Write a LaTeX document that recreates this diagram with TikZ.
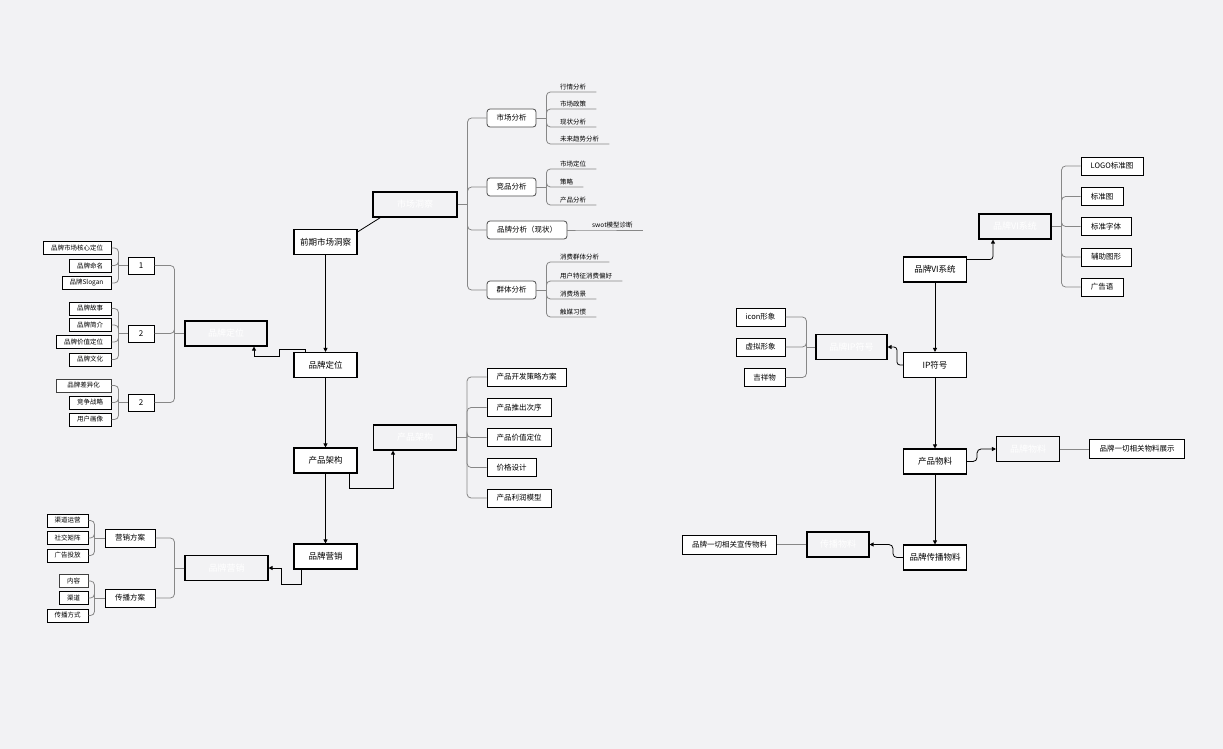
\documentclass[tikz,border=0pt]{standalone}
\usepackage{fontspec}
\setmainfont{Noto Sans CJK SC}
\usetikzlibrary{arrows.meta}
\definecolor{bgcol}{RGB}{242,242,244}
\definecolor{treecol}{RGB}{135,135,135}
\tikzset{
  mainbox/.style={draw, line width=1.1pt, fill=white, minimum width=63pt, minimum height=25pt, inner sep=0pt, font=\fontsize{8.5}{10}\selectfont},
  hidebox/.style={draw, line width=1.1pt, text=white, minimum height=25pt, inner sep=0pt, font=\fontsize{9}{10}\selectfont},
  subbox/.style={draw=black!70, line width=0.8pt, rounded corners=3pt, fill=white, minimum height=18pt, inner sep=0pt, font=\fontsize{7.5}{9}\selectfont},
  itembox/.style={draw, line width=1pt, fill=white, minimum height=18pt, inner sep=0pt, font=\fontsize{7.5}{9}\selectfont},
  numbox/.style={draw, line width=1pt, fill=white, minimum width=26pt, minimum height=17pt, inner sep=0pt, font=\fontsize{8}{9}\selectfont},
  leafbox/.style={draw, line width=1pt, fill=white, minimum height=13pt, inner sep=0pt, font=\fontsize{6.5}{7}\selectfont},
  thinbox/.style={leafbox, draw=black!75, line width=0.7pt},
  leafline/.style={anchor=south west, inner xsep=5pt, inner ysep=2pt, font=\fontsize{6.5}{7}\selectfont},
  tree/.style={draw=treecol, line width=0.8pt, rounded corners=4pt},
  flow/.style={line width=0.8pt, -{Triangle[length=4pt,width=4pt]}},
}
\begin{document}
\begin{tikzpicture}[x=1pt,y=-1pt]
  \useasboundingbox (0,0) rectangle (1223,749);
  \fill[bgcol] (0,0) rectangle (1223,749);

  \begin{scope}
    \node[mainbox] (pre) at (325.5,242) {前期市场洞察};
    \node[mainbox] (pos) at (325.5,365) {品牌定位};
    \node[mainbox] (arch) at (325.5,460.5) {产品架构};
    \node[mainbox] (mkt) at (325.5,556.5) {品牌营销};
    \draw[flow] (pre) -- (pos);
    \draw[flow] (pos) -- (arch);
    \draw[flow] (arch) -- (mkt);

    \node[hidebox, minimum width=84pt] (insH) at (415,204.5) {市场洞察};
    \draw[line width=0.8pt] ([yshift=-3pt]pre.north east) -- ([xshift=8pt]insH.south west);
    \draw[tree] (insH.east) -- ++(10,0) coordinate (ins);
    \node[subbox, minimum width=49pt] (sc) at (511.5,118) {市场分析};
    \node[subbox, minimum width=49pt] (jp) at (511.5,187) {竞品分析};
    \node[subbox, minimum width=80pt] (pp) at (527,230) {品牌分析（现状）};
    \node[subbox, minimum width=49pt] (qt) at (511.5,290) {群体分析};
    \foreach \n in {sc,jp,pp,qt} \draw[tree] (ins) |- (\n.west);

    \draw[tree] (sc.east) -- ++(10,0) coordinate (sc0);
    \node[leafline] (sc1) at (555,92) {行情分析};
    \node[leafline] (sc2) at (555,109) {市场政策};
    \node[leafline] (sc3) at (555,127) {现状分析};
    \node[leafline] (sc4) at (555,144) {未来趋势分析};
    \foreach \n in {sc1,sc2,sc3,sc4} \draw[tree] (sc0) |- (\n.south west) -- ([xshift=5pt]\n.south east);

    \draw[tree] (jp.east) -- ++(10,0) coordinate (jp0);
    \node[leafline] (jp1) at (555,169) {市场定位};
    \node[leafline] (jp2) at (555,187) {策略};
    \node[leafline] (jp3) at (555,205) {产品分析};
    \foreach \n in {jp1,jp2,jp3} \draw[tree] (jp0) |- (\n.south west) -- ([xshift=5pt]\n.south east);

    \node[leafline] (swot) at (587,230) {swot模型诊断};
    \draw[tree] (pp.east) -- (swot.south west) -- ([xshift=5pt]swot.south east);

    \draw[tree] (qt.east) -- ++(10,0) coordinate (qt0);
    \node[leafline] (qt1) at (555,262) {消费群体分析};
    \node[leafline] (qt2) at (555,281) {用户特征消费偏好};
    \node[leafline] (qt3) at (555,299) {消费场景};
    \node[leafline] (qt4) at (555,317) {触媒习惯};
    \foreach \n in {qt1,qt2,qt3,qt4} \draw[tree] (qt0) |- (\n.south west) -- ([xshift=5pt]\n.south east);

    \node[hidebox, minimum width=83pt] (archH) at (415,437.5) {产品架构};
    \draw[flow] ([xshift=-8pt]arch.south east) -- ++(0,15) -| ([xshift=-22pt]archH.south);
    \draw[tree] (archH.east) -- ++(10,0) coordinate (pa0);
    \node[itembox, minimum width=79pt] (pa1) at (526.5,377) {产品开发策略方案};
    \node[itembox, minimum width=64pt] (pa2) at (519,407.5) {产品推出次序};
    \node[itembox, minimum width=64pt] (pa3) at (519,437.5) {产品价值定位};
    \node[itembox, minimum width=49pt] (pa4) at (511.5,467.5) {价格设计};
    \node[itembox, minimum width=64pt] (pa5) at (519,498) {产品利润模型};
    \foreach \n in {pa1,pa2,pa3,pa4,pa5} \draw[tree] (pa0) |- (\n.west);

    \node[hidebox, minimum width=82pt] (posH) at (226,333.5) {品牌定位};
    \draw[flow] ([xshift=12pt]pos.north west) -- ++(0,-3) -- ++(-26,0) -- ++(0,7) -| ([xshift=28pt]posH.south);
    \draw[tree] (posH.west) -- ++(-10,0) coordinate (n0);
    \node[numbox] (n1) at (141,265.5) {1};
    \node[numbox] (n2) at (141,333.5) {2};
    \node[numbox] (n3) at (141,402.5) {2};
    \foreach \n in {n1,n2,n3} \draw[tree] (n0) |- (\n.east);

    \draw[tree] (n1.west) -- ++(-9,0) coordinate (g1);
    \node[leafbox, minimum width=68pt] (g11) at (77,248) {品牌市场核心定位};
    \node[leafbox, minimum width=42pt] (g12) at (90,265.5) {品牌命名};
    \node[leafbox, minimum width=49pt] (g13) at (86.5,283) {品牌Slogan};
    \foreach \n in {g11,g12,g13} \draw[tree] (g1) |- (\n.east);

    \draw[tree] (n2.west) -- ++(-9,0) coordinate (g2);
    \node[leafbox, minimum width=42pt] (g21) at (90,308.5) {品牌故事};
    \node[leafbox, minimum width=42pt] (g22) at (90,325) {品牌简介};
    \node[leafbox, minimum width=55pt] (g23) at (83.5,342) {品牌价值定位};
    \node[leafbox, minimum width=42pt] (g24) at (90,359.5) {品牌文化};
    \foreach \n in {g21,g22,g23,g24} \draw[tree] (g2) |- (\n.east);

    \draw[tree] (n3.west) -- ++(-9,0) coordinate (g3);
    \node[thinbox, minimum width=55pt] (g31) at (83.5,385.5) {品牌差异化};
    \node[leafbox, minimum width=42pt] (g32) at (90,402.5) {竞争战略};
    \node[leafbox, minimum width=42pt] (g33) at (90,419.5) {用户画像};
    \foreach \n in {g31,g32,g33} \draw[tree] (g3) |- (\n.east);

    \node[hidebox, minimum width=83pt] (mktH) at (226.5,568) {品牌营销};
    \draw[flow] ([xshift=8pt]mkt.south west) -- ++(0,15) -- ++(-20,0) |- (mktH.east);
    \draw[tree] (mktH.west) -- ++(-10,0) coordinate (m0);
    \node[itembox, minimum width=50pt] (yx) at (130,538) {营销方案};
    \node[itembox, minimum width=50pt] (cb) at (130,598) {传播方案};
    \foreach \n in {yx,cb} \draw[tree] (m0) |- (\n.east);

    \draw[tree] (yx.west) -- ++(-10,0) coordinate (yx0);
    \node[leafbox, minimum width=41pt] (yx1) at (67.5,520.5) {渠道运营};
    \node[leafbox, minimum width=41pt] (yx2) at (67.5,538) {社交矩阵};
    \node[leafbox, minimum width=41pt] (yx3) at (67.5,555.5) {广告投放};
    \foreach \n in {yx1,yx2,yx3} \draw[tree] (yx0) |- (\n.east);

    \draw[tree] (cb.west) -- ++(-10,0) coordinate (cb0);
    \node[thinbox, minimum width=29pt] (cb1) at (73.5,581) {内容};
    \node[leafbox, minimum width=29pt] (cb2) at (73.5,598) {渠道};
    \node[leafbox, minimum width=41pt] (cb3) at (67.5,615.5) {传播方式};
    \foreach \n in {cb1,cb2,cb3} \draw[tree] (cb0) |- (\n.east);
  \end{scope}

  \begin{scope}
    \node[mainbox] (vi) at (935,269.5) {品牌VI系统};
    \node[mainbox] (ip) at (935,365) {IP符号};
    \node[mainbox] (prod) at (935,461.5) {产品物料};
    \node[mainbox] (spr) at (935,557.5) {品牌传播物料};
    \draw[flow] (vi) -- (ip);
    \draw[flow] (ip) -- (prod);
    \draw[flow] (prod) -- (spr);

    \node[hidebox, minimum width=72pt] (viH) at (1015,226.5) {品牌VI系统};
    \draw[flow, rounded corners=3pt] ([yshift=10pt]vi.east) -| ([xshift=-22pt]viH.south);
    \draw[tree] (viH.east) -- ++(10,0) coordinate (v0);
    \node[itembox, minimum width=62pt] (v1) at (1112,166) {LOGO标准图};
    \node[itembox, minimum width=42pt] (v2) at (1102,196.5) {标准图};
    \node[itembox, minimum width=50pt] (v3) at (1106,226.5) {标准字体};
    \node[itembox, minimum width=50pt] (v4) at (1106,257) {辅助图形};
    \node[itembox, minimum width=42pt] (v5) at (1102,287) {广告语};
    \foreach \n in {v1,v2,v3,v4,v5} \draw[tree] (v0) |- (\n.west);

    \node[hidebox, minimum width=71pt] (ipH) at (851.5,347) {品牌IP符号};
    \draw[flow, rounded corners=3pt] (ip.west) -- ++(-6,0) |- (ipH.east);
    \draw[tree] (ipH.west) -- ++(-9,0) coordinate (i0);
    \node[itembox, minimum width=49pt] (i1) at (760.5,317) {icon形象};
    \node[itembox, minimum width=49pt] (i2) at (760.5,347) {虚拟形象};
    \node[itembox, minimum width=41pt] (i3) at (764.5,377.5) {吉祥物};
    \foreach \n in {i1,i2,i3} \draw[tree] (i0) |- (\n.east);

    \node[hidebox, minimum width=63pt] (prodH) at (1028,449) {品牌物料};
    \draw[flow, rounded corners=4pt] (prod.east) -- ++(10,0) |- (prodH.west);
    \node[itembox, minimum width=95pt, minimum height=19pt] (prodL) at (1137,449) {品牌一切相关物料展示};
    \draw[tree] (prodH) -- (prodL);

    \node[hidebox, minimum width=62pt] (sprH) at (838,544.5) {传播物料};
    \draw[flow, rounded corners=4pt] (spr.west) -- ++(-10,0) |- (sprH.east);
    \node[itembox, minimum width=94pt, minimum height=19pt] (sprL) at (729.5,544.5) {品牌一切相关宣传物料};
    \draw[tree] (sprH) -- (sprL);
  \end{scope}
\end{tikzpicture}
\end{document}
